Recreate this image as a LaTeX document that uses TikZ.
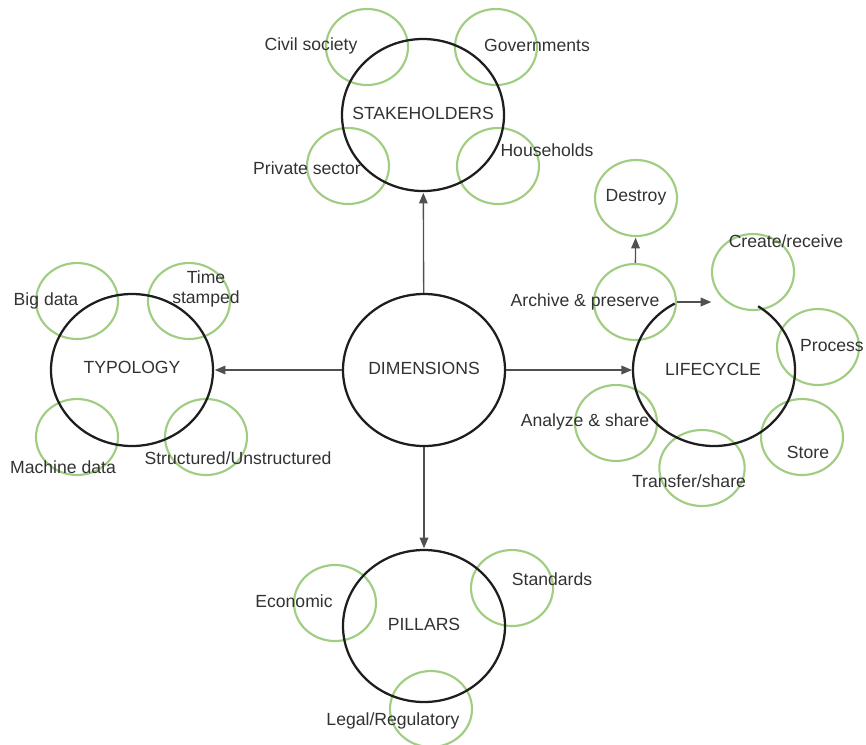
\documentclass[tikz,border=0pt]{standalone}
\usepackage{fontspec}
\setmainfont{Liberation Sans}
\usetikzlibrary{shapes.geometric,arrows.meta}
\definecolor{grn}{RGB}{160,205,130}
\definecolor{dark}{RGB}{30,30,30}
\definecolor{txt}{RGB}{50,50,50}
\definecolor{arrowgray}{RGB}{80,80,80}
\tikzset{
  bigc/.style={ellipse,draw=dark,line width=1.7pt,minimum width=121.5pt,minimum height=114pt,inner sep=0pt},
  bigh/.style={ellipse,minimum width=121.5pt,minimum height=114pt,inner sep=0pt},
  smallc/.style={ellipse,draw=grn,line width=1.6pt,minimum width=61.5pt,minimum height=57pt,inner sep=0pt},
  lbl/.style={text=txt,font=\fontsize{13.2}{15.5}\selectfont,inner sep=0pt,align=center},
  arr/.style={draw=arrowgray,line width=1pt,-{Triangle[length=8pt,width=6.5pt]},shorten >=0.5pt},
}
\begin{document}
\begin{tikzpicture}[x=0.75pt,y=-0.75pt]
\useasboundingbox (0,0) rectangle (866,744);
% green satellite circles
\node[smallc] (cs) at (367,47) {};
\node[smallc] (gv) at (496,47) {};
\node[smallc] (ps) at (348,166) {};
\node[smallc] (hh) at (498,166) {};
\node[smallc] (bd) at (77,301) {};
\node[smallc] (ts) at (189,301) {};
\node[smallc] (md) at (77,437) {};
\node[smallc] (su) at (206,437) {};
\node[smallc] (ec) at (335,603) {};
\node[smallc] (sd) at (512,588) {};
\node[smallc] (lr) at (431,709) {};
\node[smallc] (ds) at (636,198) {};
\node[smallc] (cr) at (753,272) {};
\node[smallc] (ap) at (635,302) {};
\node[smallc] (pr) at (818,347) {};
\node[smallc] (st) at (802,437) {};
\node[smallc,minimum width=64pt] (tf) at (702,468) {};
\node[smallc] (an) at (616,423) {};
% main circles
\node[bigc] (S) at (423,115) {};
\node[bigc] (D) at (424,370) {};
\node[bigc] (T) at (132,370) {};
\node[bigc] (P) at (424,626) {};
\node[bigh] (L) at (714,370) {};
\draw[draw=dark,line width=1.7pt] ([shift={(57:60.75pt and 57pt)}]L.center) arc[start angle=57,end angle=-241,x radius=60.75pt,y radius=57pt];
% connectors
\draw[arr] (D) -- (S);
\draw[arr] (D) -- (T);
\draw[arr] (D) -- (P);
\draw[arr] (D) -- (L);
\draw[arr] (ap) -- (ds);
\coordinate (apend) at (712,302);
\draw[arr] (ap.east) -- (apend);
% labels
\node[lbl] (tS) at (423,113) {STAKEHOLDERS};
\node[lbl] (tcs) at (311,46) {Civil society};
\node[lbl] (tgv) at (537,45) {Governments};
\node[lbl] (tps) at (307,168) {Private sector};
\node[lbl] (thh) at (547,150) {Households};
\node[lbl] (tD) at (424,368) {DIMENSIONS};
\node[lbl] (tT) at (132,367) {TYPOLOGY};
\node[lbl] (tbd) at (46,301) {Big data};
\node[lbl] (tts) at (206,289) {Time\\stamped};
\node[lbl] (tmd) at (63,467) {Machine data};
\node[lbl] (tsu) at (238,458) {Structured/Unstructured};
\node[lbl] (tP) at (424,624) {PILLARS};
\node[lbl] (tec) at (294,601) {Economic};
\node[lbl] (tsd) at (552,579) {Standards};
\node[lbl] (tlr) at (393,721) {Legal/Regulatory};
\node[lbl] (tL) at (713,369) {LIFECYCLE};
\node[lbl] (tds) at (636,197) {Destroy};
\node[lbl] (tcr) at (786,241) {Create/receive};
\node[lbl] (tap) at (585,302) {Archive \& preserve};
\node[lbl,anchor=east] (tpr) at (864,346) {Process};
\node[lbl] (tan) at (585,422) {Analyze \& share};
\node[lbl] (tst) at (808,452) {Store};
\node[lbl] (ttf) at (689,481) {Transfer/share};
\end{tikzpicture}
\end{document}
